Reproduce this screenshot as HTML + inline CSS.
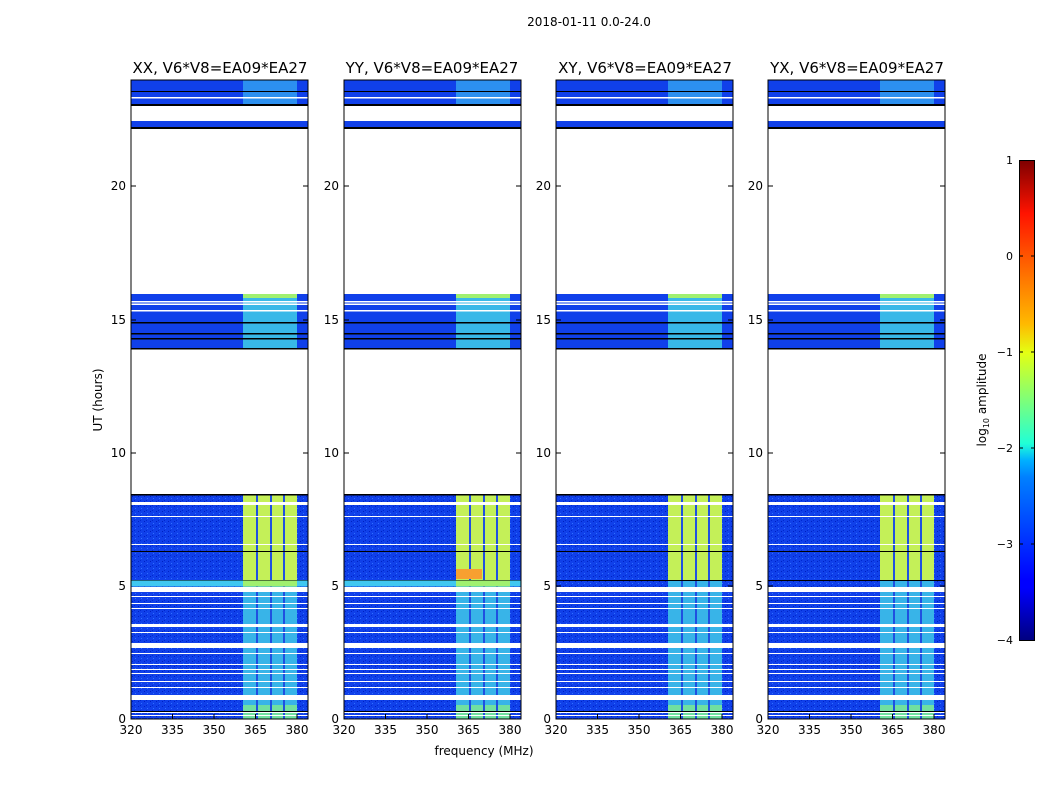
<!DOCTYPE html>
<html><head><meta charset="utf-8"><style>
html,body{margin:0;padding:0;background:#fff;}
svg{display:block;font-family:"DejaVu Sans","Liberation Sans",sans-serif;}
</style></head><body>
<svg width="1050" height="800" viewBox="0 0 1050 800" xmlns="http://www.w3.org/2000/svg">
<defs>
<linearGradient id="jet" x1="0" y1="1" x2="0" y2="0">
<stop offset="0" stop-color="#00007f"/>
<stop offset="0.11" stop-color="#0000ff"/>
<stop offset="0.125" stop-color="#0000ff"/>
<stop offset="0.34" stop-color="#0080ff"/>
<stop offset="0.375" stop-color="#00b0ff"/>
<stop offset="0.41" stop-color="#20ffd7"/>
<stop offset="0.5" stop-color="#7dff7a"/>
<stop offset="0.6" stop-color="#e4ff13"/>
<stop offset="0.66" stop-color="#ffb900"/>
<stop offset="0.75" stop-color="#ff7a00"/>
<stop offset="0.89" stop-color="#ff1300"/>
<stop offset="1" stop-color="#7f0000"/>
</linearGradient>
<pattern id="spk" width="6" height="5" patternUnits="userSpaceOnUse">
<rect x="1" y="1" width="1" height="1" fill="#0020c0"/>
<rect x="4" y="3" width="1" height="1" fill="#3070ff"/>
<rect x="3" y="0" width="1" height="1" fill="#0028d0"/>
</pattern>
<g id="panel">
<!-- block 3 (22.2-24h) -->
<rect x="0" y="0" width="177" height="25" fill="#1040ea"/>
<rect x="112" y="0" width="54" height="25" fill="#2c90f0"/>
<rect x="0" y="41" width="177" height="8" fill="#1040ea"/>
<rect x="0" y="11" width="177" height="1" fill="#000"/>
<rect x="0" y="17" width="177" height="1.5" fill="#fff"/>
<rect x="0" y="24" width="177" height="2" fill="#000"/>
<rect x="0" y="47" width="177" height="2" fill="#000"/>
<!-- block 2 (13.9-16h) -->
<rect x="0" y="214" width="177" height="55" fill="#1040ea"/>
<rect x="112" y="214" width="54" height="55" fill="#38b8e8"/>
<rect x="112" y="214" width="54" height="4" fill="#a0f070"/>
<rect x="0" y="221" width="177" height="1.5" fill="#fff"/>
<rect x="0" y="223.5" width="177" height="1.5" fill="#fff"/>
<rect x="0" y="230" width="177" height="1.5" fill="#fff"/>
<rect x="0" y="242" width="177" height="1.5" fill="#000"/>
<rect x="0" y="253" width="177" height="1.5" fill="#000"/>
<rect x="0" y="258" width="177" height="1.5" fill="#000"/>
<rect x="0" y="268" width="177" height="1.5" fill="#000"/>
<!-- block 1 (0-8.5h) -->
<rect x="0" y="414" width="177" height="225" fill="#1040ea"/>
<rect x="0" y="414" width="112" height="225" fill="url(#spk)"/>
<rect x="166" y="414" width="11" height="225" fill="url(#spk)"/>
<rect x="112" y="414" width="54" height="86" fill="#c4f058"/>
<rect x="112" y="500" width="54" height="125" fill="#38b4e8"/>
<rect x="112" y="625" width="54" height="14" fill="#70e0a0"/>
<rect x="125" y="414" width="2" height="225" fill="#2050e0"/>
<rect x="139" y="414" width="2" height="225" fill="#2050e0"/>
<rect x="152" y="414" width="2" height="225" fill="#2050e0"/>
<g fill="#fff">
<rect x="0" y="422" width="177" height="3"/>
<rect x="0" y="436" width="177" height="1"/>
<rect x="0" y="464" width="177" height="1"/>
<rect x="0" y="507" width="177" height="5"/>
<rect x="0" y="516" width="177" height="1"/>
<rect x="0" y="523" width="177" height="1"/>
<rect x="0" y="528" width="177" height="1"/>
<rect x="0" y="544" width="177" height="3"/>
<rect x="0" y="552" width="177" height="1"/>
<rect x="0" y="563" width="177" height="5"/>
<rect x="0" y="573" width="177" height="1"/>
<rect x="0" y="584" width="177" height="1"/>
<rect x="0" y="589" width="177" height="1"/>
<rect x="0" y="593" width="177" height="1"/>
<rect x="0" y="601" width="177" height="1"/>
<rect x="0" y="607" width="177" height="1"/>
<rect x="0" y="615" width="177" height="5"/>
<rect x="0" y="632" width="177" height="1"/>
<rect x="0" y="635" width="177" height="1"/>
</g>
<rect x="0" y="414" width="177" height="1.5" fill="#000"/>
<rect x="0" y="471" width="177" height="1" fill="#000"/>
<rect x="0" y="500" width="177" height="1" fill="#000"/>
<rect x="0" y="631" width="177" height="1" fill="#000"/>
<!-- frame + ticks -->
<rect x="0" y="0" width="177" height="639" fill="none" stroke="#000" stroke-width="1"/>
<g stroke="#000" stroke-width="1">
<line x1="0" y1="106" x2="5" y2="106"/><line x1="177" y1="106" x2="172" y2="106"/>
<line x1="0" y1="240" x2="5" y2="240"/><line x1="177" y1="240" x2="172" y2="240"/>
<line x1="0" y1="373" x2="5" y2="373"/><line x1="177" y1="373" x2="172" y2="373"/>
<line x1="0" y1="506" x2="5" y2="506"/><line x1="177" y1="506" x2="172" y2="506"/>
<line x1="41.5" y1="639" x2="41.5" y2="634"/><line x1="83" y1="639" x2="83" y2="634"/>
<line x1="124.5" y1="639" x2="124.5" y2="634"/><line x1="166" y1="639" x2="166" y2="634"/>
</g>
<g font-size="12" fill="#000" text-anchor="middle">
<text x="0" y="654">320</text><text x="41.5" y="654">335</text><text x="83" y="654">350</text>
<text x="124.5" y="654">365</text><text x="166" y="654">380</text>
</g>
<g font-size="12" fill="#000" text-anchor="end">
<text x="-5" y="643">0</text><text x="-5" y="510">5</text><text x="-5" y="377">10</text>
<text x="-5" y="244">15</text><text x="-5" y="110">20</text>
</g>
</g>
</defs>

<text x="589" y="26" font-size="12" text-anchor="middle">2018-01-11 0.0-24.0</text>

<use href="#panel" x="131" y="80"/>
<use href="#panel" x="344" y="80"/>
<use href="#panel" x="556" y="80"/>
<use href="#panel" x="768" y="80"/>
<!-- cyan strip in XX, YY near 5h -->
<rect x="131.5" y="580.5" width="176" height="6" fill="#40c8f0"/>
<rect x="344.5" y="580.5" width="176" height="6" fill="#40c8f0"/>
<rect x="243" y="580.5" width="54" height="6" fill="#a0f070"/>
<rect x="456" y="580.5" width="54" height="6" fill="#a0f070"/>
<rect x="456" y="569" width="26" height="10" fill="#f8a030"/>

<g font-size="15" text-anchor="middle" fill="#000">
<text x="220" y="73">XX, V6*V8=EA09*EA27</text>
<text x="432" y="73">YY, V6*V8=EA09*EA27</text>
<text x="645" y="73">XY, V6*V8=EA09*EA27</text>
<text x="857" y="73">YX, V6*V8=EA09*EA27</text>
</g>
<text x="484" y="755" font-size="12" text-anchor="middle">frequency (MHz)</text>
<text transform="translate(102,400) rotate(-90)" font-size="12" text-anchor="middle">UT (hours)</text>

<!-- colorbar -->
<rect x="1019.5" y="160.5" width="15" height="480" fill="url(#jet)" stroke="#000" stroke-width="1"/>
<g font-size="11" text-anchor="end" fill="#000">
<text x="1013" y="164">1</text><text x="1013" y="260">0</text><text x="1013" y="356">−1</text>
<text x="1013" y="452">−2</text><text x="1013" y="548">−3</text><text x="1013" y="644">−4</text>
</g>
<g stroke="#000" stroke-width="1">
<line x1="1019" y1="256" x2="1023" y2="256"/><line x1="1035" y1="256" x2="1031" y2="256"/>
<line x1="1019" y1="352" x2="1023" y2="352"/><line x1="1035" y1="352" x2="1031" y2="352"/>
<line x1="1019" y1="448" x2="1023" y2="448"/><line x1="1035" y1="448" x2="1031" y2="448"/>
<line x1="1019" y1="544" x2="1023" y2="544"/><line x1="1035" y1="544" x2="1031" y2="544"/>
</g>
<text transform="translate(986,400) rotate(-90)" font-size="12" text-anchor="middle">log<tspan font-size="8" dy="3">10</tspan><tspan dy="-3"> amplitude</tspan></text>
</svg>
</body></html>
